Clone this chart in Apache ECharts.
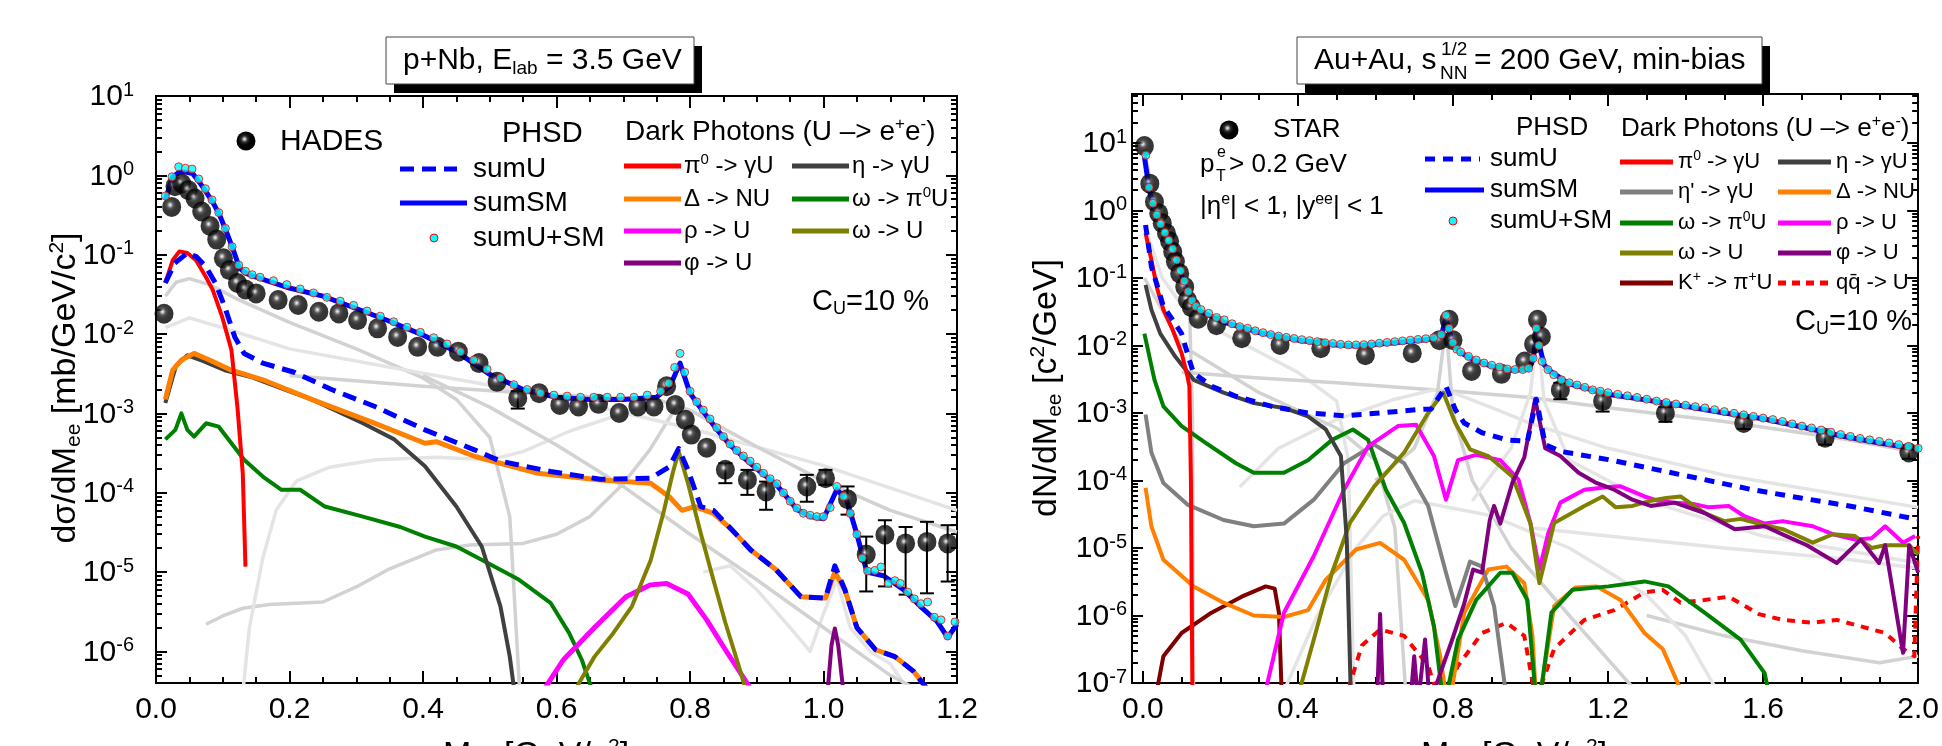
<!DOCTYPE html>
<html>
<head>
<meta charset="utf-8">
<title>dark photons</title>
<script src="https://cdn.jsdelivr.net/npm/echarts@6.0.0/dist/echarts.min.js"></script>
<style>
  html, body { margin: 0; padding: 0; background: #fff; }
  #main { width: 1942px; height: 746px; }
</style>
</head>
<body>
<div id="main"></div>
<script>
// ---------- left panel: p+Nb 3.5 GeV (HADES) ----------
const hades = [[0.012,0.018],[0.0235,0.40],[0.0285,0.73],[0.0385,0.79],[0.0485,0.65],[0.0585,0.51],[0.0685,0.35],[0.081,0.23],[0.091,0.155],[0.101,0.090],[0.110,0.064],[0.122,0.044],[0.134,0.0365],[0.150,0.0325],[0.183,0.0268],[0.213,0.0232],[0.244,0.0191],[0.274,0.0182],[0.302,0.015],[0.332,0.0118],[0.362,0.0092],[0.392,0.0069],[0.422,0.0069],[0.453,0.006],[0.484,0.0043],[0.511,0.0025],[0.542,0.00156],[0.574,0.0018],[0.605,0.00128],[0.633,0.00122],[0.663,0.00132],[0.694,0.00101],[0.722,0.00122],[0.746,0.00122],[0.765,0.0022],[0.778,0.00128],[0.793,0.00083],[0.802,0.00054],[0.825,0.00037],[0.853,0.000195],[0.886,0.000145],[0.914,0.000104],[0.975,0.00012],[1.003,0.000152],[1.036,0.000083],[1.064,1.66e-5],[1.092,2.95e-5],[1.123,2.3e-5],[1.155,2.4e-5],[1.186,2.3e-5]];
// x, low, high
const hadesErr = [[0.542,0.00115,0.0019],[0.853,1.32e-4,2.35e-4],[0.886,9.4e-5,1.94e-4],[0.914,6.1e-5,1.38e-4],[0.975,7.7e-5,1.68e-4],[1.003,1.26e-4,1.94e-4],[1.036,5.3e-5,1.2e-4],[1.064,5.7e-6,2.8e-5],[1.092,6.6e-6,4.5e-5],[1.123,5.2e-6,3.7e-5],[1.155,5.4e-6,4.3e-5],[1.186,7.6e-6,3.9e-5]];

const lSumSM = [[0.014,0.5],[0.025,0.95],[0.035,1.1],[0.045,1.1],[0.055,1.05],[0.065,0.82],[0.075,0.62],[0.085,0.46],[0.095,0.32],[0.105,0.2],[0.115,0.12],[0.125,0.068],[0.135,0.058],[0.15,0.052],[0.2,0.038],[0.25,0.03],[0.3,0.021],[0.35,0.0145],[0.4,0.0097],[0.45,0.006],[0.5,0.0031],[0.55,0.002],[0.6,0.0016],[0.65,0.0015],[0.7,0.0015],[0.75,0.0016],[0.77,0.0022],[0.785,0.0043],[0.8,0.0018],[0.82,0.00105],[0.84,6.3e-4],[0.86,4e-4],[0.88,2.8e-4],[0.9,2e-4],[0.93,1.25e-4],[0.96,6.2e-5],[0.98,5e-5],[1.0,4.7e-5],[1.02,1.1e-4],[1.035,8e-5],[1.05,3e-5],[1.065,1.0e-5],[1.09,9e-6],[1.12,6e-6],[1.145,3.7e-6],[1.17,2.4e-6],[1.186,1.5e-6],[1.2,2.2e-6]];
const lSumUSM = [[0.014,0.55],[0.024,0.96],[0.034,1.28],[0.044,1.23],[0.054,1.2],[0.064,0.9],[0.074,0.68],[0.084,0.49],[0.094,0.34],[0.104,0.215],[0.114,0.126],[0.124,0.074],[0.134,0.062],[0.144,0.056],[0.156,0.052],[0.176,0.047],[0.196,0.042],[0.216,0.037],[0.236,0.033],[0.256,0.029],[0.276,0.026],[0.296,0.023],[0.316,0.0195],[0.336,0.0168],[0.356,0.0143],[0.376,0.0122],[0.396,0.0105],[0.416,0.009],[0.436,0.0075],[0.456,0.006],[0.476,0.0047],[0.496,0.0036],[0.516,0.0028],[0.536,0.0023],[0.556,0.002],[0.576,0.0018],[0.596,0.0017],[0.616,0.00165],[0.636,0.0016],[0.656,0.0016],[0.676,0.0016],[0.696,0.0016],[0.716,0.0016],[0.736,0.0017],[0.756,0.0019],[0.768,0.0024],[0.777,0.0038],[0.785,0.0057],[0.792,0.0033],[0.8,0.0019],[0.81,0.0014],[0.82,0.0011],[0.83,8.5e-4],[0.84,6.6e-4],[0.85,5.1e-4],[0.86,4.1e-4],[0.87,3.4e-4],[0.88,2.9e-4],[0.89,2.5e-4],[0.9,2.1e-4],[0.91,1.76e-4],[0.92,1.5e-4],[0.93,1.3e-4],[0.94,1.0e-4],[0.95,7.8e-5],[0.96,6.4e-5],[0.97,5.5e-5],[0.98,5.2e-5],[0.99,5.0e-5],[1.0,5.0e-5],[1.01,6.5e-5],[1.02,1.2e-4],[1.03,9e-5],[1.04,5.5e-5],[1.05,3.0e-5],[1.058,1.5e-5],[1.066,1.03e-5],[1.077,1.05e-5],[1.086,1.16e-5],[1.097,7.2e-6],[1.107,7.8e-6],[1.115,7.2e-6],[1.126,5.6e-6],[1.136,4.6e-6],[1.146,4.0e-6],[1.156,4.2e-6],[1.166,2.7e-6],[1.176,2.5e-6],[1.186,1.56e-6],[1.197,2.35e-6]];
const lSumU = [[0.014,0.044],[0.028,0.078],[0.047,0.105],[0.061,0.094],[0.075,0.07],[0.089,0.044],[0.103,0.022],[0.118,0.0092],[0.132,0.0057],[0.16,0.0043],[0.207,0.0033],[0.263,0.002],[0.328,0.00122],[0.403,6.2e-4],[0.478,3.45e-4],[0.516,2.5e-4],[0.591,1.85e-4],[0.666,1.48e-4],[0.741,1.52e-4],[0.769,2.13e-4],[0.783,3.6e-4],[0.797,1.94e-4],[0.816,6.7e-5],[0.835,6e-5],[0.863,3.4e-5],[0.891,1.9e-5],[0.929,1.07e-5],[0.966,4.9e-6],[1.003,4.7e-6],[1.017,1.2e-5],[1.032,6e-6],[1.05,2.0e-6],[1.078,1.05e-6],[1.107,8.6e-7],[1.135,5.6e-7],[1.16,3e-7]];
const lPi0 = [[0.014,0.044],[0.025,0.085],[0.035,0.11],[0.047,0.105],[0.06,0.085],[0.075,0.052],[0.085,0.036],[0.099,0.0166],[0.113,0.0063],[0.122,0.0012],[0.13,1.76e-4],[0.134,1.17e-5]];
const lEta = [[0.014,0.00135],[0.03,0.004],[0.047,0.0054],[0.07,0.0046],[0.103,0.0035],[0.141,0.0029],[0.2,0.0019],[0.235,0.00148],[0.31,7.5e-4],[0.357,4.7e-4],[0.403,2.15e-4],[0.45,6.7e-5],[0.488,2.1e-5],[0.516,3.7e-6],[0.53,8.6e-7],[0.54,2e-7]];
const lDelta = [[0.014,0.0015],[0.025,0.0035],[0.038,0.0047],[0.057,0.0057],[0.08,0.0047],[0.113,0.0035],[0.16,0.00265],[0.235,0.00148],[0.328,7.5e-4],[0.403,4.2e-4],[0.42,4.4e-4],[0.478,2.86e-4],[0.572,1.76e-4],[0.666,1.45e-4],[0.741,1.32e-4],[0.769,8.9e-5],[0.788,6e-5],[0.807,6.7e-5],[0.835,5.5e-5],[0.863,3.4e-5],[0.891,1.9e-5],[0.929,1.07e-5],[0.966,4.9e-6],[1.003,4.7e-6],[1.017,1.0e-5],[1.032,6e-6],[1.05,2.0e-6],[1.078,1.05e-6],[1.107,8.6e-7],[1.135,5.6e-7],[1.16,3e-7]];
const lOmegaPi0 = [[0.014,4.7e-4],[0.029,6.2e-4],[0.038,1.0e-3],[0.047,6.2e-4],[0.057,5.1e-4],[0.075,7.5e-4],[0.094,6.8e-4],[0.113,4.2e-4],[0.132,2.6e-4],[0.16,1.6e-4],[0.188,1.09e-4],[0.216,1.09e-4],[0.253,6.7e-5],[0.31,5e-5],[0.366,3.7e-5],[0.403,2.8e-5],[0.45,2.1e-5],[0.497,1.3e-5],[0.544,8e-6],[0.591,4.1e-6],[0.619,1.7e-6],[0.638,7.8e-7],[0.655,3e-7]];
const lOmegaU = [[0.625,3e-7],[0.657,8.6e-7],[0.685,1.7e-6],[0.713,3.7e-6],[0.741,1.4e-5],[0.76,5.5e-5],[0.774,1.76e-4],[0.783,3.3e-4],[0.797,1.32e-4],[0.816,3.1e-5],[0.835,8e-6],[0.853,2.3e-6],[0.872,7e-7],[0.885,3e-7]];
const lRho = [[0.578,3e-7],[0.61,7.8e-7],[0.657,2.0e-6],[0.704,4.9e-6],[0.741,6.9e-6],[0.765,7.2e-6],[0.797,5.3e-6],[0.825,2.5e-6],[0.853,1.05e-6],[0.895,3e-7]];
const lPhi = [[1.006,3e-7],[1.012,1.2e-6],[1.017,1.95e-6],[1.022,1.2e-6],[1.03,3e-7]];
// light grey standard-model channels
const lGrey = [
  [[0.075,2.2e-6],[0.1,2.8e-6],[0.13,3.5e-6],[0.17,3.9e-6],[0.25,4.2e-6],[0.3,6.5e-6],[0.35,1.1e-5],[0.42,1.9e-5],[0.47,2.2e-5],[0.55,2.3e-5],[0.6,3.0e-5],[0.65,5e-5],[0.7,1.3e-4],[0.74,3.5e-4],[0.77,9e-4],[0.785,1.5e-3]],
  [[0.13,3e-7],[0.14,2e-6],[0.16,1.5e-5],[0.18,6e-5],[0.21,1.4e-4],[0.26,2.1e-4],[0.33,2.6e-4],[0.42,2.8e-4],[0.5,2.6e-4],[0.55,3.3e-4],[0.62,6e-4],[0.7,1.0e-3],[0.76,1.4e-3]],
  [[0.014,0.03],[0.03,0.045],[0.05,0.05],[0.08,0.042],[0.12,0.028],[0.2,0.014],[0.3,0.0065],[0.4,0.0028],[0.45,0.0015],[0.5,5e-4],[0.53,5e-5],[0.545,3e-7]],
  [[0.014,0.012],[0.05,0.016],[0.1,0.012],[0.2,0.0065],[0.4,0.0032],[0.6,0.0016],[0.8,6.5e-4],[1.0,2.2e-4],[1.2,6e-5]],
  [[0.2,3e-3],[0.4,2.2e-3],[0.6,1.7e-3],[0.75,1.5e-3],[0.8,1.1e-3],[0.9,3.8e-4],[1.0,1.4e-4],[1.1,6e-5],[1.2,3.2e-5]],
  [[0.82,1e-5],[0.86,1.2e-5],[0.9,6e-6],[0.95,2e-6],[0.98,1e-6],[1.0,3e-6],[1.02,8e-6],[1.04,2e-6],[1.07,1e-6],[1.1,7e-7],[1.13,3e-7]],
  [[0.4,3e-3],[0.5,1.2e-3],[0.6,4e-4],[0.7,1.2e-4],[0.8,3e-5],[0.9,8e-6],[1.0,2e-6],[1.1,5e-7],[1.15,3e-7]]
];

// ---------- right panel: Au+Au 200 GeV (STAR) ----------
const star = [[0.004,9.0],[0.018,2.5],[0.030,1.35],[0.041,0.91],[0.050,0.65],[0.061,0.46],[0.069,0.35],[0.077,0.245],[0.084,0.175],[0.095,0.117],[0.108,0.074],[0.115,0.047],[0.125,0.037],[0.143,0.025],[0.19,0.020],[0.255,0.0128],[0.354,0.0102],[0.459,0.0091],[0.574,0.0072],[0.695,0.0077],[0.765,0.012],[0.79,0.024],[0.80,0.012],[0.848,0.0042],[0.925,0.0038],[0.985,0.0058],[1.008,0.0105],[1.018,0.024],[1.028,0.0135],[1.077,0.0022],[1.186,0.0015],[1.348,0.001],[1.55,7.1e-4],[1.76,4.3e-4],[1.976,2.6e-4]];
const starErr = [[1.077,1.6e-3,2.8e-3],[1.186,1.05e-3,2.0e-3],[1.348,7.4e-4,1.22e-3],[1.55,5.8e-4,8.6e-4],[1.76,3.4e-4,5.3e-4],[1.976,2.1e-4,3.0e-4]];

const rSumSM = [[0.004,6.3],[0.016,2.1],[0.026,1.2],[0.04,0.8],[0.06,0.43],[0.08,0.24],[0.1,0.11],[0.115,0.062],[0.128,0.043],[0.14,0.035],[0.16,0.03],[0.2,0.023],[0.3,0.0155],[0.4,0.012],[0.5,0.0102],[0.55,0.0098],[0.65,0.011],[0.75,0.0125],[0.77,0.014],[0.782,0.026],[0.79,0.017],[0.8,0.0105],[0.82,0.0078],[0.86,0.0059],[0.9,0.0049],[0.95,0.0043],[0.995,0.0044],[1.007,0.0062],[1.016,0.017],[1.024,0.0095],[1.035,0.0052],[1.05,0.0042],[1.1,0.0027],[1.2,0.0019],[1.3,0.00155],[1.4,0.00126],[1.5,0.001],[1.6,8.2e-4],[1.7,6.2e-4],[1.8,4.6e-4],[1.9,3.6e-4],[2.0,2.9e-4]];
const rSumUSM = [[0.0076,6.6],[0.016,2.2],[0.026,1.28],[0.036,0.86],[0.046,0.63],[0.057,0.47],[0.067,0.36],[0.077,0.27],[0.087,0.185],[0.097,0.128],[0.107,0.09],[0.117,0.063],[0.127,0.046],[0.137,0.038],[0.15,0.034],[0.17,0.03],[0.19,0.026],[0.21,0.024],[0.23,0.021],[0.25,0.019],[0.27,0.018],[0.29,0.0165],[0.31,0.0155],[0.33,0.0145],[0.35,0.0138],[0.37,0.0132],[0.39,0.0127],[0.41,0.0122],[0.43,0.0118],[0.45,0.0114],[0.47,0.011],[0.49,0.0107],[0.51,0.0104],[0.53,0.0102],[0.55,0.0102],[0.57,0.0103],[0.59,0.0105],[0.61,0.0108],[0.63,0.0111],[0.65,0.0114],[0.67,0.0117],[0.69,0.012],[0.71,0.0123],[0.73,0.0126],[0.75,0.013],[0.77,0.0145],[0.782,0.028],[0.79,0.018],[0.8,0.011],[0.81,0.0088],[0.82,0.008],[0.84,0.0069],[0.86,0.0061],[0.88,0.0055],[0.9,0.0051],[0.92,0.0048],[0.94,0.0045],[0.96,0.0044],[0.98,0.0044],[0.995,0.0046],[1.007,0.0065],[1.015,0.018],[1.022,0.01],[1.03,0.0058],[1.045,0.0044],[1.06,0.0037],[1.08,0.0031],[1.1,0.0028],[1.12,0.0026],[1.14,0.0024],[1.16,0.0022],[1.18,0.0021],[1.2,0.002],[1.225,0.0019],[1.25,0.0018],[1.275,0.0017],[1.3,0.0016],[1.325,0.0015],[1.35,0.00143],[1.375,0.00136],[1.4,0.0013],[1.425,0.00124],[1.45,0.00119],[1.475,0.00112],[1.5,0.00105],[1.525,0.00099],[1.55,0.00094],[1.575,0.00089],[1.6,0.00084],[1.625,0.0008],[1.65,0.00075],[1.675,0.00069],[1.7,0.00064],[1.725,0.0006],[1.75,0.00056],[1.775,0.00052],[1.8,0.00048],[1.825,0.00045],[1.85,0.00042],[1.875,0.0004],[1.9,0.00038],[1.925,0.00036],[1.95,0.00034],[1.975,0.00032],[2.0,0.0003]];
const rSumU = [[0.007,0.61],[0.015,0.29],[0.022,0.148],[0.038,0.074],[0.053,0.038],[0.077,0.024],[0.1,0.015],[0.12,0.0061],[0.131,3.9e-3],[0.177,2.5e-3],[0.24,1.77e-3],[0.333,1.25e-3],[0.426,1.0e-3],[0.519,9.1e-4],[0.612,1.0e-3],[0.705,1.12e-3],[0.744,1.15e-3],[0.782,2.5e-3],[0.806,1.12e-3],[0.829,7.1e-4],[0.875,5.1e-4],[0.938,4.0e-4],[0.992,3.8e-4],[1.015,1.6e-3],[1.038,3.4e-4],[1.077,2.7e-4],[1.201,2.04e-4],[1.325,1.45e-4],[1.449,1.03e-4],[1.573,7.3e-5],[1.697,5.5e-5],[1.822,4.2e-5],[1.977,2.8e-5],[2.0,2.7e-5]];
const rPi0 = [[0.007,0.46],[0.022,0.185],[0.038,0.066],[0.053,0.034],[0.077,0.017],[0.1,0.0077],[0.115,0.0035],[0.12,0.0025],[0.124,1e-4],[0.128,5e-8]];
const rEta = [[0.007,0.079],[0.022,0.034],[0.045,0.015],[0.084,0.0068],[0.131,0.0031],[0.208,0.002],[0.286,0.0014],[0.364,0.00119],[0.426,8.9e-4],[0.472,5.7e-4],[0.511,2.3e-4],[0.526,1.33e-5],[0.537,5e-8]];
const rEtaP = [[0.007,9.5e-4],[0.022,2.6e-4],[0.053,9.2e-5],[0.115,4.4e-5],[0.208,2.6e-5],[0.286,2.1e-5],[0.364,2.3e-5],[0.441,5.2e-5],[0.519,1.8e-4],[0.597,3.4e-4],[0.674,1.8e-4],[0.736,4.2e-5],[0.782,4.3e-6],[0.806,1.38e-6],[0.829,3.4e-6],[0.844,6.3e-6],[0.875,5.3e-6],[0.906,1.38e-6],[0.94,5e-8]];
const rOmegaPi0 = [[0.004,0.015],[0.03,3.1e-3],[0.053,1.25e-3],[0.1,6.4e-4],[0.162,3.6e-4],[0.24,1.8e-4],[0.286,1.3e-4],[0.364,1.3e-4],[0.426,2.0e-4],[0.488,4.0e-4],[0.542,5.7e-4],[0.581,4.0e-4],[0.627,7.3e-5],[0.674,2.35e-5],[0.72,4.3e-6],[0.751,6.9e-7],[0.775,5e-8],[0.79,1e-7],[0.813,4.4e-7],[0.86,1.7e-6],[0.922,4.3e-6],[0.953,4.3e-6],[0.992,1.7e-6],[1.015,5e-8],[1.03,1e-7],[1.054,1.1e-6],[1.108,2.4e-6],[1.201,2.7e-6],[1.294,3.2e-6],[1.356,2.7e-6],[1.449,1.1e-6],[1.542,4.4e-7],[1.604,1.4e-7],[1.62,5e-8]];
const rDelta = [[0.007,7.8e-5],[0.022,2.1e-5],[0.053,6.7e-6],[0.131,2.7e-6],[0.208,1.55e-6],[0.286,1.0e-6],[0.364,9.5e-7],[0.426,1.2e-6],[0.472,3.4e-6],[0.55,9.5e-6],[0.612,1.19e-5],[0.674,6.7e-6],[0.736,1.7e-6],[0.767,2.5e-7],[0.785,5e-8],[0.8,1e-7],[0.829,1.1e-6],[0.891,4.8e-6],[0.938,5.3e-6],[0.984,3e-6],[1.005,5e-7],[1.015,5e-8],[1.03,1e-7],[1.061,1.38e-6],[1.116,2.6e-6],[1.17,2.7e-6],[1.232,1.7e-6],[1.294,5.5e-7],[1.341,3.2e-7],[1.403,5e-8]];
const rRho = [[0.309,5e-8],[0.364,1.1e-6],[0.441,7.6e-6],[0.519,7.3e-5],[0.581,3.2e-4],[0.658,6.4e-4],[0.705,6.7e-4],[0.751,2.3e-4],[0.782,5.2e-5],[0.813,2.0e-4],[0.86,2.4e-4],[0.922,2.0e-4],[0.969,1.03e-4],[1.0,2.3e-5],[1.023,4.8e-6],[1.046,1.67e-5],[1.077,4.7e-5],[1.139,7.3e-5],[1.2,8e-5],[1.232,8.2e-5],[1.26,7e-5],[1.294,5.8e-5],[1.33,5e-5],[1.372,4.7e-5],[1.42,4.5e-5],[1.46,4e-5],[1.511,4.2e-5],[1.55,3e-5],[1.604,2.3e-5],[1.65,2.5e-5],[1.728,2.1e-5],[1.78,1.6e-5],[1.837,1.33e-5],[1.88,1.4e-5],[1.915,2.1e-5],[1.961,1.2e-5],[1.992,1.5e-5]];
const rOmegaU = [[0.395,5e-8],[0.441,4.4e-7],[0.488,4.3e-6],[0.534,2.35e-5],[0.597,8.2e-5],[0.674,2.6e-4],[0.736,1.0e-3],[0.775,2.0e-3],[0.806,7.1e-4],[0.844,2.9e-4],[0.891,2.3e-4],[0.953,1.15e-4],[1.0,2.3e-5],[1.023,3e-6],[1.061,2.35e-5],[1.139,4.2e-5],[1.186,5.8e-5],[1.22,4e-5],[1.263,4.2e-5],[1.31,5e-5],[1.35,5.5e-5],[1.387,5.8e-5],[1.449,3.3e-5],[1.5,2.5e-5],[1.542,2.7e-5],[1.6,2.2e-5],[1.651,1.9e-5],[1.728,1.2e-5],[1.78,1.6e-5],[1.837,1.5e-5],[1.88,1.0e-5],[1.915,1.1e-5],[1.977,1.1e-5],[2.0,8e-6]];
const rPhi = [[0.604,5e-8],[0.612,1.05e-6],[0.62,5e-8],[0.69,5e-8],[0.7,2.5e-7],[0.71,5e-8],[0.728,4.4e-7],[0.74,5e-8],[0.798,4.4e-7],[0.829,1.5e-6],[0.852,4.8e-6],[0.875,4.3e-6],[0.895,2.6e-5],[0.906,4.2e-5],[0.922,2.3e-5],[0.953,9.2e-5],[0.984,2.2e-4],[1.012,1.6e-3],[1.038,3.0e-4],[1.077,2.3e-4],[1.124,1.3e-4],[1.17,9.2e-5],[1.216,7.3e-5],[1.263,5.2e-5],[1.31,4.2e-5],[1.372,4.7e-5],[1.449,3.3e-5],[1.527,1.9e-5],[1.604,2.1e-5],[1.66,1.5e-5],[1.713,1.1e-5],[1.79,6e-6],[1.852,1.33e-5],[1.899,6e-6],[1.915,1.1e-5],[1.961,2.8e-7],[1.977,1.1e-5],[2.0,4.3e-6]];
const rKaon = [[0.03,5e-8],[0.053,2.5e-7],[0.1,5.5e-7],[0.177,1.1e-6],[0.255,1.9e-6],[0.317,2.7e-6],[0.34,2.5e-6],[0.351,1.1e-6],[0.359,5e-8]];
const rQQ = [[0.519,5e-8],[0.565,3.6e-7],[0.612,6.2e-7],[0.674,5e-7],[0.736,1.8e-7],[0.767,5e-8],[0.79,1e-7],[0.813,1.8e-7],[0.875,5.5e-7],[0.938,7.8e-7],[0.984,5e-7],[1.015,5e-8],[1.03,1e-7],[1.061,3.2e-7],[1.139,8.6e-7],[1.216,1.2e-6],[1.294,2.2e-6],[1.341,2.4e-6],[1.387,1.55e-6],[1.449,1.7e-6],[1.511,1.9e-6],[1.589,1.05e-6],[1.651,8.6e-7],[1.728,7.8e-7],[1.79,8.6e-7],[1.852,6.9e-7],[1.915,5.5e-7],[1.961,3.2e-7],[1.99,2.5e-7],[2.0,1.5e-5]];
const rGrey = [
  [[0.004,8],[0.03,1.2],[0.06,0.4],[0.1,0.1],[0.12,0.04],[0.128,1e-3],[0.131,5e-8]],
  [[0.004,0.6],[0.05,0.1],[0.1,0.04],[0.2,0.016],[0.3,0.008],[0.4,0.004],[0.5,0.0015],[0.53,2e-4],[0.545,5e-8]],
  [[0.1,0.004],[0.3,0.0033],[0.5,0.0028],[0.8,0.0021],[1.0,0.0017],[1.2,0.0012],[1.5,7.5e-4],[1.8,4.2e-4],[2.0,2.6e-4]],
  [[0.25,8e-5],[0.35,3e-4],[0.5,8e-4],[0.65,1.6e-3],[0.75,2.2e-3],[0.8,2e-3],[0.9,1.2e-3],[1.0,7e-4],[1.2,3e-4],[1.5,1.2e-4],[2.0,4e-5]],
  [[0.6,1e-4],[0.7,3e-4],[0.76,2e-3],[0.782,0.02],[0.8,1e-3],[0.85,1e-4],[0.95,1e-5],[1.1,1e-6],[1.3,5e-8]],
  [[0.85,5e-5],[0.95,3e-4],[1.0,2e-3],[1.018,0.018],[1.035,1.5e-3],[1.1,2e-4],[1.3,5e-5],[1.6,1.5e-5],[2.0,6e-6]],
  [[0.004,0.1],[0.1,0.01],[0.3,0.002],[0.5,6e-4],[0.6,2e-4],[0.65,2e-5],[0.68,5e-8]],
  [[1.0,2e-5],[1.2,1.5e-5],[1.5,1e-5],[1.8,7e-6],[2.0,5e-6]],
  [[1.3,1e-6],[1.5,5e-7],[1.7,3e-7],[1.9,2e-7],[2.0,2.5e-7]],
  [[0.35,5e-8],[0.45,1e-6],[0.55,1e-5],[0.62,3e-5],[0.7,5e-5],[0.9,3e-5],[1.1,1e-5],[1.3,2e-6],[1.4,5e-7],[1.5,5e-8]]
];

const lMajorX = [0, 0.2, 0.4, 0.6, 0.8, 1.0, 1.2];
const rMajorX = [0, 0.4, 0.8, 1.2, 1.6, 2.0];

// ---------- setup ----------
const FONT = '"Liberation Sans", Arial, sans-serif';
const chart = echarts.init(document.getElementById('main'));

const L = { grid: 0, ymin: 4e-7, ymax: 10, xmin: 0, xmax: 1.2 };
const R = { grid: 1, ymin: 1e-7, ymax: 53.2, xmin: -0.028, xmax: 2.0 };

function decades(lo, hi) {
  const out = [];
  for (let n = Math.ceil(lo); n <= hi + 1e-9; n++) out.push(n);
  return out;
}
function minors(lo, hi) {
  const out = [];
  for (let n = Math.floor(lo); n <= hi; n++) {
    for (let k = 2; k <= 9; k++) {
      const v = n + Math.log10(k);
      if (v > lo && v < hi) out.push(v);
    }
  }
  return out;
}

const black = { color: '#000', width: 2 };

// y tick axes live in log10 space, laid over the hidden log axis
function yTickAxis(gi, lo, hi, pos, vals, len, labels, margin) {
  return {
    gridIndex: gi, type: 'value', position: pos, min: lo, max: hi,
    axisLine: { show: true, onZero: false, lineStyle: black },
    axisTick: { show: true, inside: true, length: len, customValues: vals, lineStyle: black },
    axisLabel: labels ? {
      show: true, customValues: vals, margin: margin,
      formatter: v => '{b|10}{s|' + Math.round(v) + '}',
      rich: {
        b: { fontSize: 30, fontFamily: FONT, color: '#000', lineHeight: 32, verticalAlign: 'bottom' },
        s: { fontSize: 20, fontFamily: FONT, color: '#000', lineHeight: 20, verticalAlign: 'top' }
      }
    } : { show: false },
    splitLine: { show: false }
  };
}
function xTickAxis(gi, lo, hi, pos, vals, len, labels) {
  return {
    gridIndex: gi, type: 'value', position: pos, min: lo, max: hi,
    axisLine: { show: true, onZero: false, lineStyle: black },
    axisTick: { show: true, inside: true, length: len, customValues: vals, lineStyle: black },
    axisLabel: labels ? {
      show: true, customValues: vals, margin: 12, fontSize: 30, fontFamily: FONT, color: '#000',
      formatter: v => v.toFixed(1)
    } : { show: false },
    splitLine: { show: false }
  };
}
function minorVals(lo, hi, step, skip) {
  const out = [];
  for (let i = Math.ceil(lo / step - 1e-9); i * step <= hi + 1e-9; i++) {
    const v = +(i * step).toFixed(4);
    if (Math.abs(v / skip - Math.round(v / skip)) > 1e-6) out.push(v);
  }
  return out;
}

const llo = Math.log10(L.ymin), lhi = Math.log10(L.ymax);
const rlo = Math.log10(R.ymin), rhi = Math.log10(R.ymax);

const xAxis = [
  // 0..3 left panel, 4..7 right panel; 0 and 4 carry the data
  xTickAxis(0, L.xmin, L.xmax, 'bottom', lMajorX, 12, true),
  xTickAxis(0, L.xmin, L.xmax, 'bottom', minorVals(0, 1.2, 0.05, 0.2), 6, false),
  xTickAxis(0, L.xmin, L.xmax, 'top', lMajorX, 12, false),
  xTickAxis(0, L.xmin, L.xmax, 'top', minorVals(0, 1.2, 0.05, 0.2), 6, false),
  xTickAxis(1, R.xmin, R.xmax, 'bottom', rMajorX, 12, true),
  xTickAxis(1, R.xmin, R.xmax, 'bottom', minorVals(0, 2.0, 0.1, 0.4), 6, false),
  xTickAxis(1, R.xmin, R.xmax, 'top', rMajorX, 12, false),
  xTickAxis(1, R.xmin, R.xmax, 'top', minorVals(0, 2.0, 0.1, 0.4), 6, false)
];
const yAxis = [
  { gridIndex: 0, type: 'log', logBase: 10, min: L.ymin, max: L.ymax, show: false, axisLine: { onZero: false } },
  yTickAxis(0, llo, lhi, 'left', decades(llo, lhi), 11, true, 22),
  yTickAxis(0, llo, lhi, 'left', minors(llo, lhi), 6, false),
  yTickAxis(0, llo, lhi, 'right', decades(llo, lhi), 11, false),
  yTickAxis(0, llo, lhi, 'right', minors(llo, lhi), 6, false),
  { gridIndex: 1, type: 'log', logBase: 10, min: R.ymin, max: R.ymax, show: false, axisLine: { onZero: false } },
  yTickAxis(1, rlo, rhi, 'left', decades(rlo, rhi), 11, true, 5),
  yTickAxis(1, rlo, rhi, 'left', minors(rlo, rhi), 6, false),
  yTickAxis(1, rlo, rhi, 'right', decades(rlo, rhi), 11, false),
  yTickAxis(1, rlo, rhi, 'right', minors(rlo, rhi), 6, false)
];

// series helpers
function ax(p) { return p === L ? { xAxisIndex: 0, yAxisIndex: 0 } : { xAxisIndex: 4, yAxisIndex: 5 }; }
function curve(p, data, color, width, z, dash) {
  return Object.assign({
    type: 'line', data: data, symbol: 'none', showSymbol: false, silent: true, clip: true, z: z,
    lineStyle: { color: color, width: width, type: dash || 'solid', cap: 'butt', join: 'round' }
  }, ax(p));
}
// black ball with a small white highlight
const sphere = new echarts.graphic.RadialGradient(0.42, 0.4, 0.58, [
  { offset: 0, color: '#ffffff' }, { offset: 0.1, color: '#b4b4b4' },
  { offset: 0.3, color: '#2a2a2a' }, { offset: 0.55, color: '#050505' }, { offset: 1, color: '#000' }
]);
function points(p, data) {
  return Object.assign({
    type: 'scatter', data: data, symbol: 'circle', symbolSize: [19, 20], silent: true, clip: true, z: 6,
    itemStyle: { color: sphere }
  }, ax(p));
}
function dots(p, data) {
  return Object.assign({
    type: 'scatter', data: data, symbol: 'circle', symbolSize: 8, silent: true, clip: true, z: 8,
    itemStyle: { color: '#00ffff', borderColor: '#ff0000', borderWidth: 1 }
  }, ax(p));
}
function errBar(params, api) {
  const x = api.value(0);
  const a = api.coord([x, api.value(2)]), b = api.coord([x, api.value(1)]);
  const w = 7, st = { stroke: '#000', lineWidth: 2 };
  return { type: 'group', children: [
    { type: 'line', shape: { x1: a[0], y1: a[1], x2: b[0], y2: b[1] }, style: st },
    { type: 'line', shape: { x1: a[0] - w, y1: a[1], x2: a[0] + w, y2: a[1] }, style: st },
    { type: 'line', shape: { x1: b[0] - w, y1: b[1], x2: b[0] + w, y2: b[1] }, style: st }
  ] };
}
function errors(p, data) {
  return Object.assign({ type: 'custom', data: data, renderItem: errBar, encode: { x: 0, y: [1, 2] }, silent: true, clip: true, z: 5 }, ax(p));
}

const DASH = [14, 8];
const series = [];
lGrey.forEach((d, i) => series.push(curve(L, d, i % 2 ? '#e4e4e4' : '#d2d2d2', 3.5, 1)));
rGrey.forEach((d, i) => series.push(curve(R, d, i % 2 ? '#e4e4e4' : '#d2d2d2', 3.5, 1)));
series.push(
  curve(L, lOmegaPi0, '#008000', 4, 2), curve(L, lEta, '#404040', 4, 2), curve(L, lDelta, '#ff8000', 5, 2),
  curve(L, lRho, '#ff00ff', 5, 2), curve(L, lOmegaU, '#808000', 4, 2), curve(L, lPhi, '#800080', 4, 2),
  curve(L, lPi0, '#ff0000', 4, 3),
  curve(L, lSumU, '#0000ff', 5, 4, DASH), curve(L, lSumSM, '#0000ff', 5, 4),
  errors(L, hadesErr), points(L, hades), dots(L, lSumUSM),

  curve(R, rQQ, '#ff0000', 4, 2, [8, 7]), curve(R, rKaon, '#800000', 4, 2), curve(R, rDelta, '#ff8000', 4, 2),
  curve(R, rEtaP, '#808080', 4, 2), curve(R, rOmegaPi0, '#008000', 4, 2), curve(R, rRho, '#ff00ff', 4, 2),
  curve(R, rOmegaU, '#808000', 4, 2), curve(R, rPhi, '#800080', 4, 2), curve(R, rEta, '#404040', 4, 2),
  curve(R, rPi0, '#ff0000', 4, 3),
  curve(R, rSumU, '#0000ff', 5, 4, [10, 8]), curve(R, rSumSM, '#0000ff', 5, 4),
  errors(R, starErr), points(R, star), dots(R, rSumUSM)
);

// ---------- text, legends, title boxes ----------
function rich(size) {
  const s = Math.round(size * 0.62);
  return {
    n: { fontSize: size, fontFamily: FONT, fill: '#000', lineHeight: size + 4, verticalAlign: 'middle' },
    p: { fontSize: s, fontFamily: FONT, fill: '#000', lineHeight: s, verticalAlign: 'top' },
    b: { fontSize: s, fontFamily: FONT, fill: '#000', lineHeight: s, verticalAlign: 'bottom' }
  };
}
function txt(x, y, text, size, extra) {
  return Object.assign({
    type: 'text', x: x, y: y, z: 60,
    style: { text: text, rich: rich(size), fontSize: size, fontFamily: FONT, fill: '#000', align: 'left', verticalAlign: 'middle' }
  }, extra || {});
}
function seg(x1, x2, y, color, width, dash) {
  return { type: 'line', z: 60, shape: { x1: x1, y1: y, x2: x2, y2: y }, style: { stroke: color, lineWidth: width, lineDash: dash || null } };
}
function ball(cx, cy) {
  return { type: 'circle', z: 60, shape: { cx: cx, cy: cy, r: 9.5 }, style: { fill: sphere } };
}
function dot(cx, cy) {
  return { type: 'circle', z: 60, shape: { cx: cx, cy: cy, r: 4 }, style: { fill: '#00ffff', stroke: '#ff0000', lineWidth: 1 } };
}
function titleBox(x, y, w, h) {
  return [
    { type: 'rect', z: 58, shape: { x: x + 8, y: y + 9, width: w, height: h }, style: { fill: '#000' } },
    { type: 'rect', z: 59, shape: { x: x, y: y, width: w, height: h }, style: { fill: '#fff', stroke: '#444', lineWidth: 1 } }
  ];
}

const g = [];
// left title
g.push(...titleBox(386, 37, 308, 47));
g.push(txt(403, 61, '{n|p+Nb, E}{b|lab}{n| = 3.5 GeV}', 30));
// right title
g.push(...titleBox(1297, 37, 465, 47));
g.push(txt(1314, 61, '{n|Au+Au, s}', 30));
g.push(txt(1441, 50, '{n|1/2}', 19));
g.push(txt(1440, 74, '{n|NN}', 19));
g.push(txt(1474, 61, '{n|= 200 GeV, min-bias}', 30));

// axis titles
const yt1 = txt(66, 388, '{n|dσ/dM}{b|ee}{n| [mb/GeV/c}{p|2}{n|]}', 34, { rotation: Math.PI / 2 });
const yt2 = txt(1047, 388, '{n|dN/dM}{b|ee}{n| [c}{p|2}{n|/GeV]}', 34, { rotation: Math.PI / 2 });
const xt1 = txt(536, 756, '{n|M}{b|ee}{n| [GeV/c}{p|2}{n|]}', 34);
const xt2 = txt(1514, 756, '{n|M}{b|ee}{n| [GeV/c}{p|2}{n|]}', 34);
[yt1, yt2, xt1, xt2].forEach(e => { e.style.align = 'center'; g.push(e); });

// left legend
g.push(ball(246, 141), txt(280, 142, '{n|HADES}', 30));
g.push(txt(502, 134, '{n|PHSD}', 29));
g.push(seg(400, 457, 169, '#0000ff', 5, DASH), txt(473, 169, '{n|sumU}', 28));
g.push(seg(400, 467, 203, '#0000ff', 5), txt(473, 203, '{n|sumSM}', 28));
g.push(dot(434, 238), txt(473, 238, '{n|sumU+SM}', 28));
g.push(txt(625, 132, '{n|Dark Photons (U –> e}{p|+}{n|e}{p|-}{n|)}', 28));
const lRows = [166, 199, 231, 263];
[
  [0, 0, '#ff0000', '{n|π}{p|0}{n| -> γU}'], [1, 0, '#404040', '{n|η -> γU}'],
  [0, 1, '#ff8000', '{n|Δ -> NU}'], [1, 1, '#008000', '{n|ω -> π}{p|0}{n|U}'],
  [0, 2, '#ff00ff', '{n|ρ -> U}'], [1, 2, '#808000', '{n|ω -> U}'],
  [0, 3, '#800080', '{n|φ -> U}']
].forEach(([c, r, col, t]) => {
  const x0 = c ? 792 : 624;
  g.push(seg(x0, x0 + 57, lRows[r], col, 5), txt(x0 + 60, lRows[r], t, 24));
});
g.push(txt(812, 302, '{n|C}{b|U}{n|=10 %}', 29));

// right legend
g.push(ball(1229, 130), txt(1273, 130, '{n|STAR}', 26));
g.push(txt(1200, 165, '{n|p}', 26), txt(1217, 153, '{n|e}', 16), txt(1216, 177, '{n|T}', 16), txt(1229, 165, '{n|> 0.2 GeV}', 26));
g.push(txt(1200, 207, '{n||η}{p|e}{n|| < 1, |y}{p|ee}{n|| < 1}', 26));
g.push(txt(1516, 128, '{n|PHSD}', 26));
g.push(seg(1425, 1480, 159, '#0000ff', 5, [10, 8]), txt(1490, 159, '{n|sumU}', 26));
g.push(seg(1425, 1484, 190, '#0000ff', 5), txt(1490, 190, '{n|sumSM}', 26));
g.push(dot(1453, 221), txt(1490, 221, '{n|sumU+SM}', 26));
g.push(txt(1621, 129, '{n|Dark Photons (U –> e}{p|+}{n|e}{p|-}{n|)}', 26));
const rRows = [162, 192, 223, 253, 283];
[
  [0, 0, '#ff0000', '{n|π}{p|0}{n| -> γU}'], [1, 0, '#404040', '{n|η -> γU}'],
  [0, 1, '#808080', "{n|η' -> γU}"], [1, 1, '#ff8000', '{n|Δ -> NU}'],
  [0, 2, '#008000', '{n|ω -> π}{p|0}{n|U}'], [1, 2, '#ff00ff', '{n|ρ -> U}'],
  [0, 3, '#808000', '{n|ω -> U}'], [1, 3, '#800080', '{n|φ -> U}'],
  [0, 4, '#800000', '{n|K}{p|+}{n| -> π}{p|+}{n|U}'], [1, 4, '#ff0000', '{n|qq\u0304 -> U}']
].forEach(([c, r, col, t]) => {
  const x0 = c ? 1778 : 1620;
  const dash = (c === 1 && r === 4) ? [8, 6] : null;
  g.push(seg(x0, x0 + 53, rRows[r], col, 5, dash), txt(x0 + 58, rRows[r], t, 22));
});
g.push(txt(1795, 322, '{n|C}{b|U}{n|=10 %}', 29));

chart.setOption({
  animation: false,
  backgroundColor: '#fff',
  grid: [
    { left: 156, top: 96, width: 801, height: 587 },
    { left: 1132, top: 94, width: 802, height: 589 }
  ],
  xAxis: xAxis,
  yAxis: yAxis,
  series: series,
  graphic: { elements: g }
});
</script>
</body>
</html>
